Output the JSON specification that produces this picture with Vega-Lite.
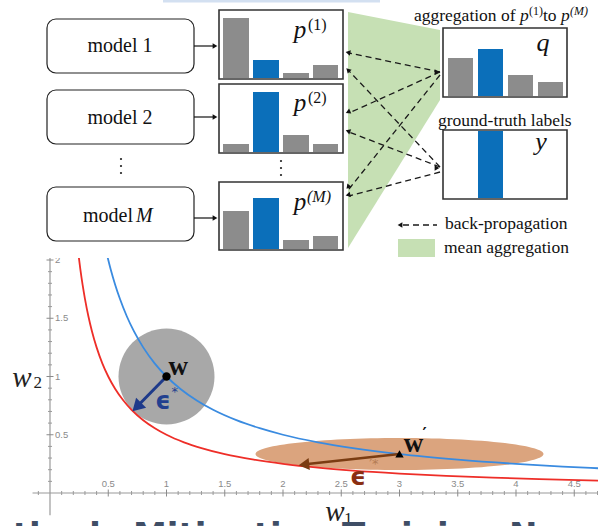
{
"$schema": "https://vega.github.io/schema/vega-lite/v6.json",
"padding": 0,
"bounds": "flush",
"spacing": 0,
"config": {"view": {"stroke": null}},
"datasets": {
"stripe": [{"x":163,"x2":380,"y":0,"y2":2.5}],
"green": [{"x":348,"y":12,"yb":248},{"x":440,"y":30,"yb":100}],
"swatch": [{"x":398,"x2":435,"y":239,"y2":257}],
"models": [{"x":47,"x2":194,"y":19,"y2":73},{"x":47,"x2":194,"y":90,"y2":144},{"x":47,"x2":194,"y":187,"y2":241}],
"frames": [{"x":219,"x2":343,"y":10,"y2":79},{"x":219,"x2":343,"y":84,"y2":153},{"x":219,"x2":343,"y":182,"y2":250},{"x":443,"x2":567,"y":28,"y2":97},{"x":443,"x2":567,"y":130,"y2":199}],
"bars": [
{"x":223,"x2":249,"y":18,"y2":78,"c":"g"},{"x":253,"x2":279,"y":60,"y2":78,"c":"b"},{"x":283,"x2":309,"y":73,"y2":78,"c":"g"},{"x":313,"x2":338,"y":65,"y2":78,"c":"g"},
{"x":223,"x2":249,"y":144,"y2":152,"c":"g"},{"x":253,"x2":279,"y":92,"y2":152,"c":"b"},{"x":283,"x2":309,"y":135,"y2":152,"c":"g"},{"x":313,"x2":338,"y":144,"y2":152,"c":"g"},
{"x":223,"x2":249,"y":211,"y2":249,"c":"g"},{"x":253,"x2":279,"y":198,"y2":249,"c":"b"},{"x":283,"x2":309,"y":240,"y2":249,"c":"g"},{"x":313,"x2":338,"y":236,"y2":249,"c":"g"},
{"x":448,"x2":473,"y":58,"y2":96,"c":"g"},{"x":478,"x2":503,"y":49,"y2":96,"c":"b"},{"x":508,"x2":533,"y":75,"y2":96,"c":"g"},{"x":538,"x2":563,"y":82,"y2":96,"c":"g"},
{"x":478,"x2":503,"y":131,"y2":198,"c":"b"}],
"solid": [{"x":194,"y":46,"x2":213,"y2":46},{"x":194,"y":117,"x2":213,"y2":117},{"x":194,"y":218,"x2":213,"y2":218}],
"dashed": [{"x":440,"y":72,"x2":349,"y2":53},{"x":440,"y":167,"x2":349,"y2":71},{"x":440,"y":72,"x2":349,"y2":113},{"x":440,"y":167,"x2":349,"y2":132},{"x":440,"y":75,"x2":349,"y2":189},{"x":440,"y":172,"x2":349,"y2":196},{"x":403,"y":225,"x2":437,"y2":225}],
"heads": [{"x":215,"y":46,"a":90},{"x":215,"y":117,"a":90},{"x":215,"y":218,"a":90},
{"x":348,"y":52.5,"a":281},{"x":348,"y":70,"a":315},{"x":348,"y":112,"a":247},{"x":348,"y":131,"a":290},{"x":348,"y":187,"a":220},{"x":348,"y":195,"a":256},
{"x":437,"y":72,"a":90},{"x":437,"y":168,"a":90},{"x":400,"y":225,"a":270}],
"dots": [{"x":121,"y":159},{"x":121,"y":166},{"x":121,"y":173},{"x":281,"y":161},{"x":281,"y":168},{"x":281,"y":175}],
"modelText": [{"x":120,"y":52,"t":"model 1"},{"x":120,"y":124,"t":"model 2"}],
"modelM1": [{"x":133,"y":222,"t":"model"}],
"modelM2": [{"x":136,"y":222,"t":"M"}],
"pLetters": [{"x":300,"y":38,"t":"p"},{"x":300,"y":111,"t":"p"},{"x":300,"y":210,"t":"p"}],
"pSup": [{"x":308,"y":30,"t":"(1)"},{"x":308,"y":103,"t":"(2)"}],
"pSupM": [{"x":307,"y":202,"t":"(M)"}],
"qy": [{"x":543,"y":51,"t":"q"},{"x":541,"y":150,"t":"y"}],
"labels": [{"x":414,"y":21,"t":"aggregation of"},{"x":543,"y":21,"t":"to"},{"x":438,"y":126,"t":"ground-truth labels"},{"x":445,"y":229,"t":"back-propagation"},{"x":444,"y":253,"t":"mean aggregation"}],
"labelP": [{"x":520,"y":21,"t":"p"},{"x":561,"y":21,"t":"p"}],
"labelSup": [{"x":529,"y":15,"t":"(1)"}],
"labelSupM": [{"x":570,"y":15,"t":"(M)"}],
"axes": [{"w1":-0.15,"w1b":4.71,"w2":0,"w2b":0},{"w1":0,"w1b":0,"w2":-0.19,"w2b":2.03}],
"xminor": [{"w1":-0.1},{"w1":0.1},{"w1":0.2},{"w1":0.3},{"w1":0.4},{"w1":0.6},{"w1":0.7},{"w1":0.8},{"w1":0.9},{"w1":1.1},{"w1":1.2},{"w1":1.3},{"w1":1.4},{"w1":1.6},{"w1":1.7},{"w1":1.8},{"w1":1.9},{"w1":2.1},{"w1":2.2},{"w1":2.3},{"w1":2.4},{"w1":2.6},{"w1":2.7},{"w1":2.8},{"w1":2.9},{"w1":3.1},{"w1":3.2},{"w1":3.3},{"w1":3.4},{"w1":3.6},{"w1":3.7},{"w1":3.8},{"w1":3.9},{"w1":4.1},{"w1":4.2},{"w1":4.3},{"w1":4.4},{"w1":4.6},{"w1":4.7}],
"xmajor": [{"w1":0.5,"t":"0.5"},{"w1":1,"t":"1"},{"w1":1.5,"t":"1.5"},{"w1":2,"t":"2"},{"w1":2.5,"t":"2.5"},{"w1":3,"t":"3"},{"w1":3.5,"t":"3.5"},{"w1":4,"t":"4"},{"w1":4.5,"t":"4.5"}],
"yminor": [{"w2":0.1},{"w2":0.2},{"w2":0.3},{"w2":0.4},{"w2":0.6},{"w2":0.7},{"w2":0.8},{"w2":0.9},{"w2":1.1},{"w2":1.2},{"w2":1.3},{"w2":1.4},{"w2":1.6},{"w2":1.7},{"w2":1.8},{"w2":1.9}],
"ymajor": [{"w2":0.5,"t":"0.5"},{"w2":1,"t":"1"},{"w2":1.5,"t":"1.5"},{"w2":2,"t":"2"}],
"red": [{"w1":0.24,"w2":2.083},{"w1":0.26,"w2":1.923},{"w1":0.28,"w2":1.786},{"w1":0.3,"w2":1.667},{"w1":0.33,"w2":1.515},{"w1":0.36,"w2":1.389},{"w1":0.4,"w2":1.25},{"w1":0.45,"w2":1.111},{"w1":0.5,"w2":1.0},{"w1":0.56,"w2":0.893},{"w1":0.63,"w2":0.794},{"w1":0.7,"w2":0.714},{"w1":0.8,"w2":0.625},{"w1":0.9,"w2":0.556},{"w1":1.0,"w2":0.5},{"w1":1.15,"w2":0.435},{"w1":1.3,"w2":0.385},{"w1":1.5,"w2":0.333},{"w1":1.75,"w2":0.286},{"w1":2.0,"w2":0.25},{"w1":2.3,"w2":0.217},{"w1":2.6,"w2":0.192},{"w1":3.0,"w2":0.167},{"w1":3.4,"w2":0.147},{"w1":3.8,"w2":0.132},{"w1":4.2,"w2":0.119},{"w1":4.71,"w2":0.106}],
"blue": [{"w1":0.48,"w2":2.083},{"w1":0.52,"w2":1.923},{"w1":0.56,"w2":1.786},{"w1":0.6,"w2":1.667},{"w1":0.66,"w2":1.515},{"w1":0.72,"w2":1.389},{"w1":0.8,"w2":1.25},{"w1":0.9,"w2":1.111},{"w1":1.0,"w2":1.0},{"w1":1.12,"w2":0.893},{"w1":1.26,"w2":0.794},{"w1":1.4,"w2":0.714},{"w1":1.6,"w2":0.625},{"w1":1.8,"w2":0.556},{"w1":2.0,"w2":0.5},{"w1":2.3,"w2":0.435},{"w1":2.6,"w2":0.385},{"w1":3.0,"w2":0.333},{"w1":3.5,"w2":0.286},{"w1":4.0,"w2":0.25},{"w1":4.4,"w2":0.227},{"w1":4.71,"w2":0.212}],
"circle": [{"w1":1,"w2":1}],
"ellipse": [{"w1":3,"w2":0.335}],
"navyArrow": [{"w1":1,"w2":1,"w1b":0.75,"w2b":0.745}],
"navyHead": [{"w1":0.745,"w2":0.738,"a":225}],
"brownArrow": [{"w1":3,"w2":0.335,"w1b":2.19,"w2b":0.246}],
"brownHead": [{"w1":2.18,"w2":0.244,"a":264}],
"wdot": [{"w1":1,"w2":1}],
"wtri": [{"w1":3,"w2":0.335}],
"wlab": [{"w1":1.1,"w2":1.08,"t":"w"},{"w1":3.12,"w2":0.42,"t":"w"}],
"prime": [{"w1":3.215,"w2":0.51,"t":"′"}],
"epsNavy": [{"w1":0.97,"w2":0.78,"t":"ϵ"}],
"starNavy": [{"w1":1.07,"w2":0.87,"t":"*"}],
"epsBrown": [{"w1":2.644,"w2":0.137,"t":"ϵ"}],
"supBrown": [{"w1":2.78,"w2":0.245,"t":"′*"}],
"titleW": [{"w1":-0.24,"w2":0.987,"t":"w"},{"w1":2.446,"w2":-0.163,"t":"w"}],
"titleSub": [{"w1":-0.105,"w2":0.944,"t":"2"},{"w1":2.56,"w2":-0.223,"t":"1"}],
"cut": [{"w1":-0.32,"w2":-0.465,"t":"thods Mitigating Training No"}]
},
"vconcat": [
{
"width": 598, "height": 258,
"layer": [
{"data":{"name":"stripe"},"mark":{"type":"rect","color":"#D3E0F1"},
 "encoding":{"x":{"field":"x","type":"quantitative","scale":{"domain":[0,598],"nice":false,"zero":false},"axis":null},"x2":{"field":"x2"},
 "y":{"field":"y","type":"quantitative","scale":{"domain":[0,258],"reverse":true,"nice":false,"zero":false},"axis":null},"y2":{"field":"y2"}}},
{"data":{"name":"green"},"mark":{"type":"area","color":"#C6E0B4","opacity":1},
 "encoding":{"x":{"field":"x","type":"quantitative","scale":{"domain":[0,598],"nice":false,"zero":false},"axis":null},
 "y":{"field":"y","type":"quantitative","scale":{"domain":[0,258],"reverse":true,"nice":false,"zero":false},"axis":null},"y2":{"field":"yb"}}},
{"data":{"name":"swatch"},"mark":{"type":"rect","color":"#C6E0B4"},
 "encoding":{"x":{"field":"x","type":"quantitative","scale":{"domain":[0,598],"nice":false,"zero":false},"axis":null},"x2":{"field":"x2"},
 "y":{"field":"y","type":"quantitative","scale":{"domain":[0,258],"reverse":true,"nice":false,"zero":false},"axis":null},"y2":{"field":"y2"}}},
{"data":{"name":"models"},"mark":{"type":"rect","fill":"#ffffff","stroke":"#222222","strokeWidth":1.2,"cornerRadius":9},
 "encoding":{"x":{"field":"x","type":"quantitative","scale":{"domain":[0,598],"nice":false,"zero":false},"axis":null},"x2":{"field":"x2"},
 "y":{"field":"y","type":"quantitative","scale":{"domain":[0,258],"reverse":true,"nice":false,"zero":false},"axis":null},"y2":{"field":"y2"}}},
{"data":{"name":"frames"},"mark":{"type":"rect","fill":"#ffffff","stroke":"#333333","strokeWidth":1.6},
 "encoding":{"x":{"field":"x","type":"quantitative","scale":{"domain":[0,598],"nice":false,"zero":false},"axis":null},"x2":{"field":"x2"},
 "y":{"field":"y","type":"quantitative","scale":{"domain":[0,258],"reverse":true,"nice":false,"zero":false},"axis":null},"y2":{"field":"y2"}}},
{"data":{"name":"bars"},"mark":{"type":"rect"},
 "encoding":{"x":{"field":"x","type":"quantitative","scale":{"domain":[0,598],"nice":false,"zero":false},"axis":null},"x2":{"field":"x2"},
 "y":{"field":"y","type":"quantitative","scale":{"domain":[0,258],"reverse":true,"nice":false,"zero":false},"axis":null},"y2":{"field":"y2"},
 "color":{"field":"c","type":"nominal","scale":{"domain":["g","b"],"range":["#8C8C8C","#0B6FBA"]},"legend":null}}},
{"data":{"name":"solid"},"mark":{"type":"rule","color":"#111111","strokeWidth":1.2},
 "encoding":{"x":{"field":"x","type":"quantitative","scale":{"domain":[0,598],"nice":false,"zero":false},"axis":null},"x2":{"field":"x2"},
 "y":{"field":"y","type":"quantitative","scale":{"domain":[0,258],"reverse":true,"nice":false,"zero":false},"axis":null},"y2":{"field":"y2"}}},
{"data":{"name":"dashed"},"mark":{"type":"rule","color":"#1a1a1a","strokeWidth":1.3,"strokeDash":[6,4]},
 "encoding":{"x":{"field":"x","type":"quantitative","scale":{"domain":[0,598],"nice":false,"zero":false},"axis":null},"x2":{"field":"x2"},
 "y":{"field":"y","type":"quantitative","scale":{"domain":[0,258],"reverse":true,"nice":false,"zero":false},"axis":null},"y2":{"field":"y2"}}},
{"data":{"name":"heads"},"mark":{"type":"point","shape":"triangle-up","filled":true,"color":"#111111","opacity":1,"size":30},
 "encoding":{"x":{"field":"x","type":"quantitative","scale":{"domain":[0,598],"nice":false,"zero":false},"axis":null},
 "y":{"field":"y","type":"quantitative","scale":{"domain":[0,258],"reverse":true,"nice":false,"zero":false},"axis":null},
 "angle":{"field":"a","type":"quantitative","scale":null}}},
{"data":{"name":"dots"},"mark":{"type":"point","shape":"circle","filled":true,"color":"#222222","opacity":1,"size":5},
 "encoding":{"x":{"field":"x","type":"quantitative","scale":{"domain":[0,598],"nice":false,"zero":false},"axis":null},
 "y":{"field":"y","type":"quantitative","scale":{"domain":[0,258],"reverse":true,"nice":false,"zero":false},"axis":null}}},
{"data":{"name":"modelText"},"mark":{"type":"text","font":"Liberation Serif","fontSize":20,"color":"#111111","align":"center","baseline":"alphabetic"},
 "encoding":{"x":{"field":"x","type":"quantitative","scale":{"domain":[0,598],"nice":false,"zero":false},"axis":null},
 "y":{"field":"y","type":"quantitative","scale":{"domain":[0,258],"reverse":true,"nice":false,"zero":false},"axis":null},"text":{"field":"t"}}},
{"data":{"name":"modelM1"},"mark":{"type":"text","font":"Liberation Serif","fontSize":20,"color":"#111111","align":"right","baseline":"alphabetic"},
 "encoding":{"x":{"field":"x","type":"quantitative","scale":{"domain":[0,598],"nice":false,"zero":false},"axis":null},
 "y":{"field":"y","type":"quantitative","scale":{"domain":[0,258],"reverse":true,"nice":false,"zero":false},"axis":null},"text":{"field":"t"}}},
{"data":{"name":"modelM2"},"mark":{"type":"text","font":"Liberation Serif","fontStyle":"italic","fontSize":20,"color":"#111111","align":"left","baseline":"alphabetic"},
 "encoding":{"x":{"field":"x","type":"quantitative","scale":{"domain":[0,598],"nice":false,"zero":false},"axis":null},
 "y":{"field":"y","type":"quantitative","scale":{"domain":[0,258],"reverse":true,"nice":false,"zero":false},"axis":null},"text":{"field":"t"}}},
{"data":{"name":"pLetters"},"mark":{"type":"text","font":"Liberation Serif","fontStyle":"italic","fontSize":25,"color":"#111111","align":"center","baseline":"alphabetic"},
 "encoding":{"x":{"field":"x","type":"quantitative","scale":{"domain":[0,598],"nice":false,"zero":false},"axis":null},
 "y":{"field":"y","type":"quantitative","scale":{"domain":[0,258],"reverse":true,"nice":false,"zero":false},"axis":null},"text":{"field":"t"}}},
{"data":{"name":"pSup"},"mark":{"type":"text","font":"Liberation Serif","fontSize":16,"color":"#111111","align":"left","baseline":"alphabetic"},
 "encoding":{"x":{"field":"x","type":"quantitative","scale":{"domain":[0,598],"nice":false,"zero":false},"axis":null},
 "y":{"field":"y","type":"quantitative","scale":{"domain":[0,258],"reverse":true,"nice":false,"zero":false},"axis":null},"text":{"field":"t"}}},
{"data":{"name":"pSupM"},"mark":{"type":"text","font":"Liberation Serif","fontStyle":"italic","fontSize":16,"color":"#111111","align":"left","baseline":"alphabetic"},
 "encoding":{"x":{"field":"x","type":"quantitative","scale":{"domain":[0,598],"nice":false,"zero":false},"axis":null},
 "y":{"field":"y","type":"quantitative","scale":{"domain":[0,258],"reverse":true,"nice":false,"zero":false},"axis":null},"text":{"field":"t"}}},
{"data":{"name":"qy"},"mark":{"type":"text","font":"Liberation Serif","fontStyle":"italic","fontSize":26,"color":"#111111","align":"center","baseline":"alphabetic"},
 "encoding":{"x":{"field":"x","type":"quantitative","scale":{"domain":[0,598],"nice":false,"zero":false},"axis":null},
 "y":{"field":"y","type":"quantitative","scale":{"domain":[0,258],"reverse":true,"nice":false,"zero":false},"axis":null},"text":{"field":"t"}}},
{"data":{"name":"labels"},"mark":{"type":"text","font":"Liberation Serif","fontSize":17.5,"color":"#111111","align":"left","baseline":"alphabetic"},
 "encoding":{"x":{"field":"x","type":"quantitative","scale":{"domain":[0,598],"nice":false,"zero":false},"axis":null},
 "y":{"field":"y","type":"quantitative","scale":{"domain":[0,258],"reverse":true,"nice":false,"zero":false},"axis":null},"text":{"field":"t"}}},
{"data":{"name":"labelP"},"mark":{"type":"text","font":"Liberation Serif","fontStyle":"italic","fontSize":17.5,"color":"#111111","align":"left","baseline":"alphabetic"},
 "encoding":{"x":{"field":"x","type":"quantitative","scale":{"domain":[0,598],"nice":false,"zero":false},"axis":null},
 "y":{"field":"y","type":"quantitative","scale":{"domain":[0,258],"reverse":true,"nice":false,"zero":false},"axis":null},"text":{"field":"t"}}},
{"data":{"name":"labelSup"},"mark":{"type":"text","font":"Liberation Serif","fontSize":12,"color":"#111111","align":"left","baseline":"alphabetic"},
 "encoding":{"x":{"field":"x","type":"quantitative","scale":{"domain":[0,598],"nice":false,"zero":false},"axis":null},
 "y":{"field":"y","type":"quantitative","scale":{"domain":[0,258],"reverse":true,"nice":false,"zero":false},"axis":null},"text":{"field":"t"}}},
{"data":{"name":"labelSupM"},"mark":{"type":"text","font":"Liberation Serif","fontStyle":"italic","fontSize":12,"color":"#111111","align":"left","baseline":"alphabetic"},
 "encoding":{"x":{"field":"x","type":"quantitative","scale":{"domain":[0,598],"nice":false,"zero":false},"axis":null},
 "y":{"field":"y","type":"quantitative","scale":{"domain":[0,258],"reverse":true,"nice":false,"zero":false},"axis":null},"text":{"field":"t"}}}
]
},
{
"width": 598, "height": 268,
"layer": [
{"data":{"name":"circle"},"mark":{"type":"point","shape":"circle","filled":true,"color":"#A8A8A8","opacity":1,"size":9216,"clip":true},
 "encoding":{"x":{"field":"w1","type":"quantitative","scale":{"domain":[-0.4292,4.7039],"nice":false,"zero":false},"axis":null},
 "y":{"field":"w2","type":"quantitative","scale":{"domain":[-0.2833,2.0172],"nice":false,"zero":false},"axis":null}}},
{"data":{"name":"ellipse"},"mark":{"type":"point","shape":"M-1,0A1,0.111,0,1,0,1,0A1,0.111,0,1,0,-1,0Z","filled":true,"color":"#DBA47E","opacity":1,"size":82944,"clip":true},
 "encoding":{"x":{"field":"w1","type":"quantitative","scale":{"domain":[-0.4292,4.7039],"nice":false,"zero":false},"axis":null},
 "y":{"field":"w2","type":"quantitative","scale":{"domain":[-0.2833,2.0172],"nice":false,"zero":false},"axis":null}}},
{"data":{"name":"axes"},"mark":{"type":"rule","color":"#9A9A9A","strokeWidth":1.2,"clip":true},
 "encoding":{"x":{"field":"w1","type":"quantitative","scale":{"domain":[-0.4292,4.7039],"nice":false,"zero":false},"axis":null},"x2":{"field":"w1b"},
 "y":{"field":"w2","type":"quantitative","scale":{"domain":[-0.2833,2.0172],"nice":false,"zero":false},"axis":null},"y2":{"field":"w2b"}}},
{"data":{"name":"xminor"},"mark":{"type":"tick","orient":"vertical","size":4,"thickness":1,"color":"#9A9A9A","opacity":1},
 "encoding":{"x":{"field":"w1","type":"quantitative","scale":{"domain":[-0.4292,4.7039],"nice":false,"zero":false},"axis":null},
 "y":{"datum":0,"type":"quantitative","scale":{"domain":[-0.2833,2.0172],"nice":false,"zero":false},"axis":null}}},
{"data":{"name":"xmajor"},"mark":{"type":"tick","orient":"vertical","size":7,"thickness":1,"color":"#8A8A8A","opacity":1},
 "encoding":{"x":{"field":"w1","type":"quantitative","scale":{"domain":[-0.4292,4.7039],"nice":false,"zero":false},"axis":null},
 "y":{"datum":0,"type":"quantitative","scale":{"domain":[-0.2833,2.0172],"nice":false,"zero":false},"axis":null}}},
{"data":{"name":"yminor"},"mark":{"type":"tick","orient":"horizontal","size":4,"thickness":1,"color":"#9A9A9A","opacity":1,"clip":true},
 "encoding":{"x":{"datum":0,"type":"quantitative","scale":{"domain":[-0.4292,4.7039],"nice":false,"zero":false},"axis":null},
 "y":{"field":"w2","type":"quantitative","scale":{"domain":[-0.2833,2.0172],"nice":false,"zero":false},"axis":null}}},
{"data":{"name":"ymajor"},"mark":{"type":"tick","orient":"horizontal","size":7,"thickness":1,"color":"#8A8A8A","opacity":1,"clip":true},
 "encoding":{"x":{"datum":0,"type":"quantitative","scale":{"domain":[-0.4292,4.7039],"nice":false,"zero":false},"axis":null},
 "y":{"field":"w2","type":"quantitative","scale":{"domain":[-0.2833,2.0172],"nice":false,"zero":false},"axis":null}}},
{"data":{"name":"xmajor"},"mark":{"type":"text","font":"Liberation Sans","fontSize":9.5,"color":"#8A8A8A","align":"center","baseline":"alphabetic","dy":-6},
 "encoding":{"x":{"field":"w1","type":"quantitative","scale":{"domain":[-0.4292,4.7039],"nice":false,"zero":false},"axis":null},
 "y":{"datum":0,"type":"quantitative","scale":{"domain":[-0.2833,2.0172],"nice":false,"zero":false},"axis":null},"text":{"field":"t"}}},
{"data":{"name":"ymajor"},"mark":{"type":"text","font":"Liberation Sans","fontSize":9.5,"color":"#8A8A8A","align":"left","baseline":"middle","dx":5,"clip":true},
 "encoding":{"x":{"datum":0,"type":"quantitative","scale":{"domain":[-0.4292,4.7039],"nice":false,"zero":false},"axis":null},
 "y":{"field":"w2","type":"quantitative","scale":{"domain":[-0.2833,2.0172],"nice":false,"zero":false},"axis":null},"text":{"field":"t"}}},
{"data":{"name":"red"},"mark":{"type":"line","color":"#EE2E28","strokeWidth":1.8,"interpolate":"monotone","clip":true},
 "encoding":{"x":{"field":"w1","type":"quantitative","scale":{"domain":[-0.4292,4.7039],"nice":false,"zero":false},"axis":null},
 "y":{"field":"w2","type":"quantitative","scale":{"domain":[-0.2833,2.0172],"nice":false,"zero":false},"axis":null}}},
{"data":{"name":"blue"},"mark":{"type":"line","color":"#3A8BE0","strokeWidth":1.8,"interpolate":"monotone","clip":true},
 "encoding":{"x":{"field":"w1","type":"quantitative","scale":{"domain":[-0.4292,4.7039],"nice":false,"zero":false},"axis":null},
 "y":{"field":"w2","type":"quantitative","scale":{"domain":[-0.2833,2.0172],"nice":false,"zero":false},"axis":null}}},
{"data":{"name":"navyArrow"},"mark":{"type":"rule","color":"#1E3A8A","strokeWidth":3},
 "encoding":{"x":{"field":"w1","type":"quantitative","scale":{"domain":[-0.4292,4.7039],"nice":false,"zero":false},"axis":null},"x2":{"field":"w1b"},
 "y":{"field":"w2","type":"quantitative","scale":{"domain":[-0.2833,2.0172],"nice":false,"zero":false},"axis":null},"y2":{"field":"w2b"}}},
{"data":{"name":"navyHead"},"mark":{"type":"point","shape":"triangle-up","filled":true,"color":"#1E3A8A","opacity":1,"size":200},
 "encoding":{"x":{"field":"w1","type":"quantitative","scale":{"domain":[-0.4292,4.7039],"nice":false,"zero":false},"axis":null},
 "y":{"field":"w2","type":"quantitative","scale":{"domain":[-0.2833,2.0172],"nice":false,"zero":false},"axis":null},
 "angle":{"field":"a","type":"quantitative","scale":null}}},
{"data":{"name":"brownArrow"},"mark":{"type":"rule","color":"#7A3C12","strokeWidth":2.5},
 "encoding":{"x":{"field":"w1","type":"quantitative","scale":{"domain":[-0.4292,4.7039],"nice":false,"zero":false},"axis":null},"x2":{"field":"w1b"},
 "y":{"field":"w2","type":"quantitative","scale":{"domain":[-0.2833,2.0172],"nice":false,"zero":false},"axis":null},"y2":{"field":"w2b"}}},
{"data":{"name":"brownHead"},"mark":{"type":"point","shape":"triangle-up","filled":true,"color":"#7A3C12","opacity":1,"size":150},
 "encoding":{"x":{"field":"w1","type":"quantitative","scale":{"domain":[-0.4292,4.7039],"nice":false,"zero":false},"axis":null},
 "y":{"field":"w2","type":"quantitative","scale":{"domain":[-0.2833,2.0172],"nice":false,"zero":false},"axis":null},
 "angle":{"field":"a","type":"quantitative","scale":null}}},
{"data":{"name":"wdot"},"mark":{"type":"point","shape":"circle","filled":true,"color":"#000000","opacity":1,"size":70},
 "encoding":{"x":{"field":"w1","type":"quantitative","scale":{"domain":[-0.4292,4.7039],"nice":false,"zero":false},"axis":null},
 "y":{"field":"w2","type":"quantitative","scale":{"domain":[-0.2833,2.0172],"nice":false,"zero":false},"axis":null}}},
{"data":{"name":"wtri"},"mark":{"type":"point","shape":"triangle-up","filled":true,"color":"#000000","opacity":1,"size":70},
 "encoding":{"x":{"field":"w1","type":"quantitative","scale":{"domain":[-0.4292,4.7039],"nice":false,"zero":false},"axis":null},
 "y":{"field":"w2","type":"quantitative","scale":{"domain":[-0.2833,2.0172],"nice":false,"zero":false},"axis":null}}},
{"data":{"name":"wlab"},"mark":{"type":"text","font":"Liberation Serif","fontWeight":"bold","fontSize":27,"color":"#111111","align":"center","baseline":"middle"},
 "encoding":{"x":{"field":"w1","type":"quantitative","scale":{"domain":[-0.4292,4.7039],"nice":false,"zero":false},"axis":null},
 "y":{"field":"w2","type":"quantitative","scale":{"domain":[-0.2833,2.0172],"nice":false,"zero":false},"axis":null},"text":{"field":"t"}}},
{"data":{"name":"prime"},"mark":{"type":"text","font":"DejaVu Sans","fontWeight":"bold","fontSize":16,"color":"#111111","align":"center","baseline":"middle"},
 "encoding":{"x":{"field":"w1","type":"quantitative","scale":{"domain":[-0.4292,4.7039],"nice":false,"zero":false},"axis":null},
 "y":{"field":"w2","type":"quantitative","scale":{"domain":[-0.2833,2.0172],"nice":false,"zero":false},"axis":null},"text":{"field":"t"}}},
{"data":{"name":"epsNavy"},"mark":{"type":"text","font":"DejaVu Sans","fontWeight":"bold","fontSize":24,"color":"#22408F","align":"center","baseline":"middle"},
 "encoding":{"x":{"field":"w1","type":"quantitative","scale":{"domain":[-0.4292,4.7039],"nice":false,"zero":false},"axis":null},
 "y":{"field":"w2","type":"quantitative","scale":{"domain":[-0.2833,2.0172],"nice":false,"zero":false},"axis":null},"text":{"field":"t"}}},
{"data":{"name":"starNavy"},"mark":{"type":"text","font":"DejaVu Sans","fontSize":13,"color":"#22408F","align":"center","baseline":"middle"},
 "encoding":{"x":{"field":"w1","type":"quantitative","scale":{"domain":[-0.4292,4.7039],"nice":false,"zero":false},"axis":null},
 "y":{"field":"w2","type":"quantitative","scale":{"domain":[-0.2833,2.0172],"nice":false,"zero":false},"axis":null},"text":{"field":"t"}}},
{"data":{"name":"epsBrown"},"mark":{"type":"text","font":"DejaVu Sans","fontWeight":"bold","fontSize":25,"color":"#8A2E12","align":"center","baseline":"middle"},
 "encoding":{"x":{"field":"w1","type":"quantitative","scale":{"domain":[-0.4292,4.7039],"nice":false,"zero":false},"axis":null},
 "y":{"field":"w2","type":"quantitative","scale":{"domain":[-0.2833,2.0172],"nice":false,"zero":false},"axis":null},"text":{"field":"t"}}},
{"data":{"name":"supBrown"},"mark":{"type":"text","font":"DejaVu Sans","fontSize":13,"color":"#B47C54","align":"center","baseline":"middle"},
 "encoding":{"x":{"field":"w1","type":"quantitative","scale":{"domain":[-0.4292,4.7039],"nice":false,"zero":false},"axis":null},
 "y":{"field":"w2","type":"quantitative","scale":{"domain":[-0.2833,2.0172],"nice":false,"zero":false},"axis":null},"text":{"field":"t"}}},
{"data":{"name":"titleW"},"mark":{"type":"text","font":"Liberation Serif","fontStyle":"italic","fontSize":29,"color":"#222222","align":"center","baseline":"middle"},
 "encoding":{"x":{"field":"w1","type":"quantitative","scale":{"domain":[-0.4292,4.7039],"nice":false,"zero":false},"axis":null},
 "y":{"field":"w2","type":"quantitative","scale":{"domain":[-0.2833,2.0172],"nice":false,"zero":false},"axis":null},"text":{"field":"t"}}},
{"data":{"name":"titleSub"},"mark":{"type":"text","font":"Liberation Serif","fontSize":17,"color":"#222222","align":"center","baseline":"middle"},
 "encoding":{"x":{"field":"w1","type":"quantitative","scale":{"domain":[-0.4292,4.7039],"nice":false,"zero":false},"axis":null},
 "y":{"field":"w2","type":"quantitative","scale":{"domain":[-0.2833,2.0172],"nice":false,"zero":false},"axis":null},"text":{"field":"t"}}},
{"data":{"name":"cut"},"mark":{"type":"text","font":"DejaVu Sans","fontWeight":"bold","fontSize":34,"color":"#3F4E66","align":"left","baseline":"alphabetic","clip":true},
 "encoding":{"x":{"field":"w1","type":"quantitative","scale":{"domain":[-0.4292,4.7039],"nice":false,"zero":false},"axis":null},
 "y":{"field":"w2","type":"quantitative","scale":{"domain":[-0.2833,2.0172],"nice":false,"zero":false},"axis":null},"text":{"field":"t"}}}
]
}
]
}
